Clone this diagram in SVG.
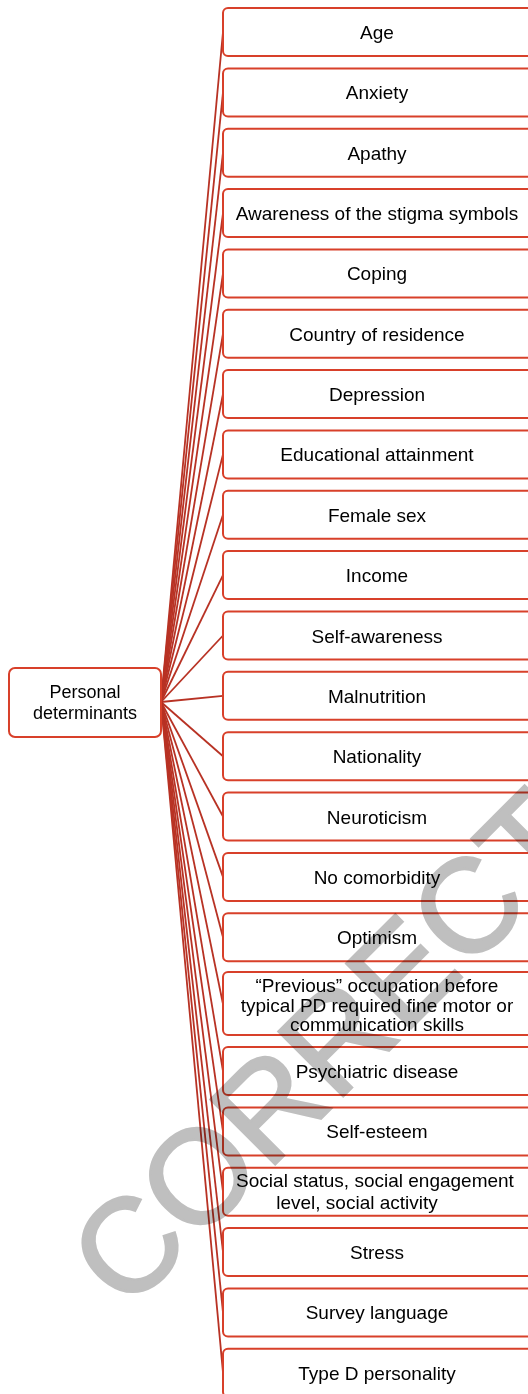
<svg xmlns="http://www.w3.org/2000/svg" width="528" height="1394" viewBox="0 0 528 1394">
<style>
.box{fill:#ffffff;stroke:#d8402a;stroke-width:2}
.t{font-family:"Liberation Sans",Arial,sans-serif;font-size:19px;fill:#000;text-anchor:middle}
.rt{font-family:"Liberation Sans",Arial,sans-serif;font-size:18px;fill:#000;text-anchor:middle}
.c{stroke:#b83224;stroke-width:1.8;fill:none}
.wm{font-family:"Liberation Sans",Arial,sans-serif;font-size:133px;font-weight:normal;fill:#bfbfbf;stroke:#bfbfbf;stroke-width:2.5;mix-blend-mode:multiply}
</style>
<rect width="528" height="1394" fill="#ffffff"/>
<g id="connectors">
<line class="c" x1="161" y1="702" x2="223" y2="32"/>
<line class="c" x1="161" y1="702" x2="223" y2="92.4"/>
<line class="c" x1="161" y1="702" x2="223" y2="152.7"/>
<line class="c" x1="161" y1="702" x2="223" y2="213"/>
<line class="c" x1="161" y1="702" x2="223" y2="273.4"/>
<line class="c" x1="161" y1="702" x2="223" y2="333.7"/>
<line class="c" x1="161" y1="702" x2="223" y2="394"/>
<line class="c" x1="161" y1="702" x2="223" y2="454.4"/>
<line class="c" x1="161" y1="702" x2="223" y2="514.8"/>
<line class="c" x1="161" y1="702" x2="223" y2="575.1"/>
<line class="c" x1="161" y1="702" x2="223" y2="635.5"/>
<line class="c" x1="161" y1="702" x2="223" y2="695.8"/>
<line class="c" x1="161" y1="702" x2="223" y2="756.2"/>
<line class="c" x1="161" y1="702" x2="223" y2="816.5"/>
<line class="c" x1="161" y1="702" x2="223" y2="876.9"/>
<line class="c" x1="161" y1="702" x2="223" y2="937.2"/>
<line class="c" x1="161" y1="702" x2="223" y2="1004"/>
<line class="c" x1="161" y1="702" x2="223" y2="1071"/>
<line class="c" x1="161" y1="702" x2="223" y2="1131.4"/>
<line class="c" x1="161" y1="702" x2="223" y2="1191.7"/>
<line class="c" x1="161" y1="702" x2="223" y2="1252"/>
<line class="c" x1="161" y1="702" x2="223" y2="1312.4"/>
<line class="c" x1="161" y1="702" x2="223" y2="1372.7"/>
</g>
<g id="root"><rect class="box" x="9" y="668" width="152" height="69" rx="6"/><text class="rt" x="85" y="698">Personal</text><text class="rt" x="85" y="719">determinants</text></g>
<g id="n1"><rect class="box" x="223" y="8" width="310" height="48" rx="5"/><text class="t" x="377" y="39">Age</text></g>
<g id="n2"><rect class="box" x="223" y="68.4" width="310" height="48" rx="5"/><text class="t" x="377" y="99.4">Anxiety</text></g>
<g id="n3"><rect class="box" x="223" y="128.7" width="310" height="48" rx="5"/><text class="t" x="377" y="159.7">Apathy</text></g>
<g id="n4"><rect class="box" x="223" y="189" width="310" height="48" rx="5"/><text class="t" x="377" y="220">Awareness of the stigma symbols</text></g>
<g id="n5"><rect class="box" x="223" y="249.4" width="310" height="48" rx="5"/><text class="t" x="377" y="280.4">Coping</text></g>
<g id="n6"><rect class="box" x="223" y="309.7" width="310" height="48" rx="5"/><text class="t" x="377" y="340.7">Country of residence</text></g>
<g id="n7"><rect class="box" x="223" y="370" width="310" height="48" rx="5"/><text class="t" x="377" y="401">Depression</text></g>
<g id="n8"><rect class="box" x="223" y="430.4" width="310" height="48" rx="5"/><text class="t" x="377" y="461.4">Educational attainment</text></g>
<g id="n9"><rect class="box" x="223" y="490.8" width="310" height="48" rx="5"/><text class="t" x="377" y="521.8">Female sex</text></g>
<g id="n10"><rect class="box" x="223" y="551.1" width="310" height="48" rx="5"/><text class="t" x="377" y="582.1">Income</text></g>
<g id="n11"><rect class="box" x="223" y="611.5" width="310" height="48" rx="5"/><text class="t" x="377" y="642.5">Self-awareness</text></g>
<g id="n12"><rect class="box" x="223" y="671.8" width="310" height="48" rx="5"/><text class="t" x="377" y="702.8">Malnutrition</text></g>
<g id="n13"><rect class="box" x="223" y="732.2" width="310" height="48" rx="5"/><text class="t" x="377" y="763.2">Nationality</text></g>
<g id="n14"><rect class="box" x="223" y="792.5" width="310" height="48" rx="5"/><text class="t" x="377" y="823.5">Neuroticism</text></g>
<g id="n15"><rect class="box" x="223" y="852.9" width="310" height="48" rx="5"/><text class="t" x="377" y="883.9">No comorbidity</text></g>
<g id="n16"><rect class="box" x="223" y="913.2" width="310" height="48" rx="5"/><text class="t" x="377" y="944.2">Optimism</text></g>
<g id="n17"><rect class="box" x="223" y="972" width="310" height="63" rx="5"/><text class="t" x="377" y="991.5">“Previous” occupation before</text><text class="t" x="377" y="1011.5">typical PD required fine motor or</text><text class="t" x="377" y="1031">communication skills</text></g>
<g id="n18"><rect class="box" x="223" y="1047" width="310" height="48" rx="5"/><text class="t" x="377" y="1078">Psychiatric disease</text></g>
<g id="n19"><rect class="box" x="223" y="1107.4" width="310" height="48" rx="5"/><text class="t" x="377" y="1138.4">Self-esteem</text></g>
<g id="n20"><rect class="box" x="223" y="1167.7" width="310" height="48" rx="5"/><text class="t" x="375" y="1187">Social status, social engagement</text><text class="t" x="357" y="1209">level, social activity</text></g>
<g id="n21"><rect class="box" x="223" y="1228" width="310" height="48" rx="5"/><text class="t" x="377" y="1259">Stress</text></g>
<g id="n22"><rect class="box" x="223" y="1288.4" width="310" height="48" rx="5"/><text class="t" x="377" y="1319.4">Survey language</text></g>
<g id="n23"><rect class="box" x="223" y="1348.7" width="310" height="48" rx="5"/><text class="t" x="377" y="1379.7">Type D personality</text></g>
<text class="wm" x="126.4" y="1313" transform="rotate(-45 126.4 1313)">CORRECTED</text>
</svg>
